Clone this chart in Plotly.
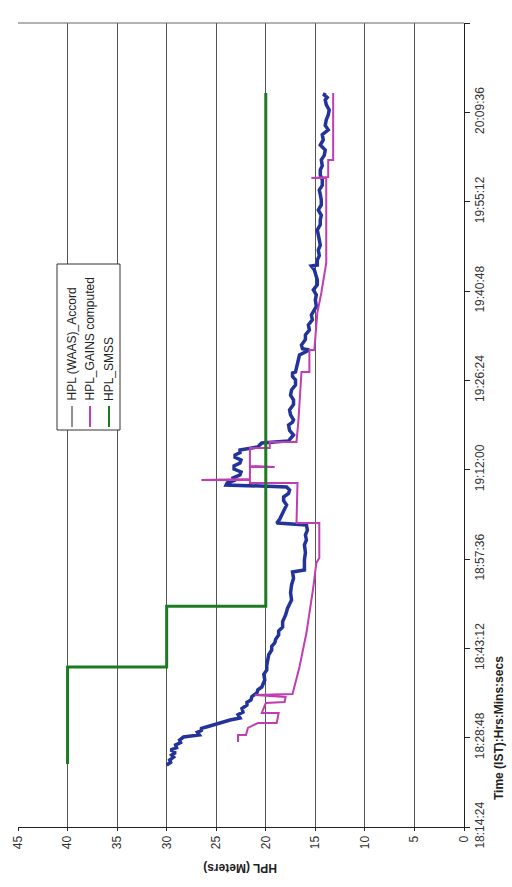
import plotly.graph_objects as go

DAY = "2008-01-01 "

# HPL (WAAS)_Accord
waas_time = [
    "18:24:24", "18:24:50", "18:25:12", "18:25:40", "18:26:00", "18:26:25", "18:26:49", "18:27:10",
    "18:27:37", "18:28:00", "18:28:25", "18:28:54", "18:29:14", "18:29:40", "18:30:02", "18:30:15",
    "18:30:31", "18:31:10", "18:31:25", "18:31:39", "18:31:58", "18:32:30", "18:32:56", "18:33:30",
    "18:34:04", "18:34:30", "18:34:52", "18:35:25", "18:36:00", "18:36:30", "18:36:58", "18:37:30",
    "18:38:06", "18:39:00", "18:39:43", "18:40:30", "18:41:19", "18:42:10", "18:42:56", "18:43:30",
    "18:44:04", "18:44:40", "18:45:21", "18:46:00", "18:46:38", "18:47:30", "18:48:35", "18:49:40",
    "18:51:00", "18:52:10", "18:53:25", "18:54:30", "18:55:30", "18:55:50", "18:57:27", "18:58:40",
    "18:59:52", "19:00:40", "19:01:28", "19:02:15", "19:03:05", "19:03:24", "19:04:00", "19:04:42",
    "19:05:30", "19:06:19", "19:07:00", "19:07:36", "19:08:10", "19:08:44", "19:09:13", "19:09:32",
    "19:09:51", "19:10:15", "19:10:40", "19:11:10", "19:11:38", "19:12:05", "19:12:36", "19:13:05",
    "19:13:34", "19:14:00", "19:14:22", "19:14:45", "19:15:11", "19:15:40", "19:16:00", "19:16:18",
    "19:16:38", "19:17:05", "19:17:36", "19:18:20", "19:19:12", "19:19:40", "19:20:01", "19:20:50",
    "19:21:37", "19:22:30", "19:23:14", "19:24:00", "19:24:51", "19:25:40", "19:26:28", "19:27:00",
    "19:27:35", "19:27:45", "19:28:53", "19:29:40", "19:30:29", "19:31:18", "19:31:30", "19:32:06",
    "19:33:00", "19:33:43", "19:34:30", "19:35:20", "19:36:10", "19:36:56", "19:37:16", "19:38:20",
    "19:39:21", "19:40:10", "19:40:58", "19:41:50", "19:42:35", "19:43:20", "19:44:12", "19:44:50",
    "19:45:00", "19:45:48", "19:46:30", "19:47:25", "19:48:10", "19:49:02", "19:49:50", "19:50:38",
    "19:51:30", "19:52:15", "19:53:00", "19:53:52", "19:54:40", "19:55:29", "19:56:20", "19:57:05",
    "19:57:50", "19:58:42", "19:59:30", "20:00:19", "20:01:00", "20:01:56", "20:02:40", "20:03:32",
    "20:04:20", "20:05:09", "20:06:00", "20:06:46", "20:07:30", "20:08:23", "20:09:10", "20:09:59",
    "20:10:50", "20:11:36", "20:12:00", "20:12:24", "20:12:44",
]
waas_hpl = [
    30.0, 29.6, 29.7, 29.3, 29.5, 29.1, 29.6, 29.0,
    29.1, 28.6, 28.7, 28.3, 26.7, 26.9, 26.4, 26.6,
    26.0, 24.6, 24.0, 23.6, 22.6, 22.8, 22.3, 22.4,
    21.9, 21.9, 21.5, 21.4, 20.9, 20.8, 20.4, 20.3,
    20.1, 20.2, 19.9, 19.9, 19.8, 19.7, 19.4, 19.4,
    19.1, 19.0, 18.7, 18.7, 18.3, 18.3, 18.0, 17.8,
    17.4, 17.5, 17.4, 17.2, 17.3, 16.1, 16.1, 16.0,
    16.1, 15.9, 16.0, 15.8, 15.9, 18.9, 18.6, 18.4,
    18.1, 17.9, 18.2, 18.2, 17.7, 17.6, 17.9, 24.0,
    23.9, 23.2, 23.3, 22.6, 22.5, 23.2, 23.2, 22.6,
    22.5, 23.1, 23.1, 22.6, 22.6, 20.8, 20.6, 20.4,
    17.7, 17.5, 17.2, 17.6, 17.7, 17.3, 17.2, 17.5,
    17.6, 17.2, 17.2, 17.5, 17.4, 17.0, 17.0, 17.3,
    17.3, 17.0, 16.8, 16.7, 16.6, 15.6, 16.3, 16.4,
    16.0, 16.0, 15.6, 15.7, 15.3, 15.4, 15.3, 14.9,
    15.0, 14.9, 15.2, 14.8, 14.8, 14.9, 15.1, 15.4,
    14.8, 14.8, 14.6, 14.7, 14.5, 14.6, 14.7, 14.8,
    14.5, 14.5, 14.4, 14.7, 14.4, 14.4, 14.5, 14.6,
    14.3, 14.3, 14.5, 14.5, 14.3, 14.4, 14.1, 14.0,
    14.5, 14.2, 14.3, 13.7, 14.0, 13.9, 13.7, 13.6,
    13.9, 14.0, 13.8, 14.1, 14.0,
]

# HPL_GAINS computed
gains_time = [
    "18:28:06", "18:29:14", "18:29:14", "18:30:22", "18:31:00", "18:31:10", "18:31:10", "18:32:47",
    "18:32:47", "18:34:23", "18:34:33", "18:35:21", "18:35:41", "18:35:50", "18:40:12", "18:45:40",
    "18:53:05", "18:56:58", "18:57:46", "19:03:24", "19:03:24", "19:09:51", "19:09:51", "19:10:20",
    "19:10:20", "19:10:30", "19:12:26", "19:12:26", "19:12:36", "19:15:30", "19:15:30", "19:16:28",
    "19:16:28", "19:20:01", "19:27:45", "19:27:45", "19:31:18", "19:31:18", "19:37:16", "19:40:29",
    "19:45:19", "19:59:01", "19:59:01", "19:59:11", "20:01:56", "20:01:56", "20:12:44",
]
gains_hpl = [
    22.8, 22.8, 22.0, 21.8, 21.0, 20.8, 18.9, 18.7,
    20.4, 20.0, 18.1, 18.0, 21.1, 17.3, 16.6, 15.9,
    15.2, 14.9, 14.6, 14.6, 16.9, 16.8, 21.6, 21.6,
    26.5, 21.6, 21.6, 19.1, 21.6, 21.6, 19.6, 19.6,
    16.9, 16.7, 16.4, 15.6, 15.6, 15.1, 14.8, 14.4,
    13.9, 13.9, 15.4, 13.7, 13.7, 13.2, 13.2,
]

# HPL_SMSS
smss_time = ["18:24:33", "18:40:12", "18:50:00", "20:12:44"]
smss_hpl = [40, 30, 20, 20]

hpl_ticks = [0, 5, 10, 15, 20, 25, 30, 35, 40, 45]
time_ticks = ["18:14:24", "18:28:48", "18:43:12", "18:57:36", "19:12:00",
              "19:26:24", "19:40:48", "19:55:12", "20:09:36", "20:24:00"]

series_names = ["HPL (WAAS)_Accord", "HPL_GAINS computed", "HPL_SMSS"]
series_colors = ["#22339a", "#c23cb2", "#1e7a22"]
legend_swatch = ["#222222", "#c23cb2", "#1e7a22"]


def stamp(ts):
    return [DAY + t for t in ts]


FONT = "Liberation Sans, Arial, sans-serif"

fig = go.Figure()

fig.add_trace(go.Scatter(
    x=waas_hpl, y=stamp(waas_time), mode="lines",
    line=dict(color=series_colors[0], width=3.5),
    name=series_names[0], showlegend=False,
))
fig.add_trace(go.Scatter(
    x=gains_hpl, y=stamp(gains_time), mode="lines",
    line=dict(color=series_colors[1], width=2),
    name=series_names[1], showlegend=False,
))
fig.add_trace(go.Scatter(
    x=smss_hpl, y=stamp(smss_time), mode="lines", line_shape="vh",
    line=dict(color=series_colors[2], width=3),
    name=series_names[2], showlegend=False,
))

# plot-area geometry in pixels (for the hand-built legend)
L, R, T, B = 18, 464, 23, 827


def px(xp):
    return (xp - L) / (R - L)


def py(yp):
    return (B - yp) / (B - T)


shapes = [
    # top border of the plot area
    dict(type="line", xref="paper", yref="paper", x0=0, x1=1, y0=1, y1=1,
         line=dict(color="#666666", width=1)),
    # legend box
    dict(type="rect", xref="paper", yref="paper",
         x0=px(57), x1=px(120), y0=py(430), y1=py(264),
         line=dict(color="#333333", width=1), fillcolor="white", layer="above"),
]
annotations = []
legend_cols = [72, 90, 109]
for name, col, xc in zip(series_names, legend_swatch, legend_cols):
    shapes.append(dict(type="line", xref="paper", yref="paper",
                       x0=px(xc), x1=px(xc), y0=py(427), y1=py(406),
                       line=dict(color=col, width=2 if col != "#222222" else 1),
                       layer="above"))
    annotations.append(dict(
        text=name, xref="paper", yref="paper", x=px(xc), y=py(403),
        xanchor="center", yanchor="bottom", textangle=-90, showarrow=False,
        font=dict(family=FONT, size=12, color="#222222"),
    ))

annotations.append(dict(
    text="<b>HPL (Meters)</b>", xref="paper", yref="paper", x=px(240), y=py(868),
    xanchor="center", yanchor="middle", textangle=180, showarrow=False,
    font=dict(family=FONT, size=12, color="#222222"),
))
annotations.append(dict(
    text="<b>Time (IST):Hrs:Mins:secs</b>", xref="paper", yref="paper", x=px(499), y=py(728),
    xanchor="center", yanchor="middle", textangle=-90, showarrow=False,
    font=dict(family=FONT, size=12, color="#222222"),
))

fig.update_layout(
    width=512, height=887,
    margin=dict(l=L, r=512 - R, t=T, b=887 - B),
    paper_bgcolor="white", plot_bgcolor="white",
    font=dict(family=FONT, size=12, color="#333333"),
    showlegend=False,
    shapes=shapes, annotations=annotations,
    xaxis=dict(
        range=[45, 0], tickvals=hpl_ticks, ticktext=[str(v) for v in hpl_ticks],
        tickangle=-90, ticks="outside", ticklen=3, tickcolor="#222222",
        showgrid=True, gridcolor="#555555", gridwidth=1, zeroline=False,
        showline=True, linecolor="#222222", linewidth=1,
        tickfont=dict(family=FONT, size=12, color="#333333"),
    ),
    yaxis=dict(
        type="date", side="right",
        range=[DAY + time_ticks[0], DAY + time_ticks[-1]],
        tickvals=stamp(time_ticks), ticktext=time_ticks,
        tickangle=-90, ticks="outside", ticklen=5, tickcolor="#222222",
        showgrid=False, zeroline=False,
        showline=True, linecolor="#222222", linewidth=1,
        tickfont=dict(family=FONT, size=12, color="#333333"),
    ),
)

fig.write_html("out.html")
